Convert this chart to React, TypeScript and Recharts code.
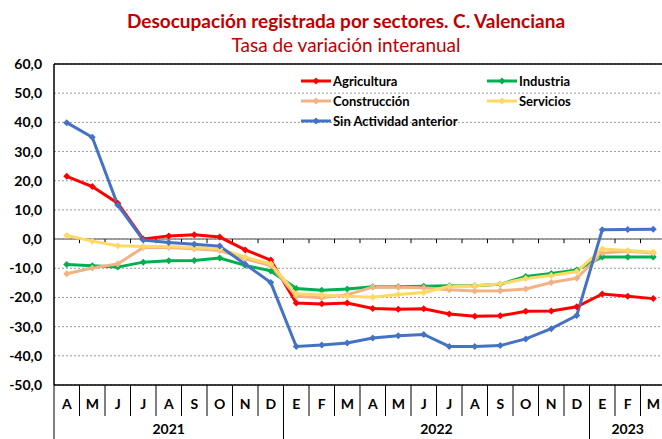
import { CartesianGrid, Line, LineChart, ReferenceLine, XAxis, YAxis } from "recharts";

const months = ["A", "M", "J", "J", "A", "S", "O", "N", "D", "E", "F", "M", "A", "M", "J", "J", "A", "S", "O", "N", "D", "E", "F", "M"];
const years = [
  { label: "2021", from: 0, to: 8 },
  { label: "2022", from: 9, to: 20 },
  { label: "2023", from: 21, to: 23 },
];
const yTicks = [-50, -40, -30, -20, -10, 0, 10, 20, 30, 40, 50, 60];

const agricultura = [21.5, 18.0, 12.3, 0.0, 1.1, 1.5, 0.7, -3.7, -7.2, -21.9, -22.2, -21.9, -23.8, -24.0, -23.9, -25.7, -26.4, -26.3, -24.7, -24.6, -23.2, -18.8, -19.6, -20.4];
const industria = [-8.7, -9.1, -9.6, -7.9, -7.4, -7.3, -6.5, -9.0, -10.9, -16.9, -17.5, -17.1, -16.3, -16.3, -16.2, -16.0, -16.0, -15.5, -12.8, -11.8, -10.6, -6.1, -6.1, -6.1];
const construccion = [-11.9, -9.9, -8.5, -2.9, -2.9, -3.3, -3.9, -6.8, -9.1, -19.6, -20.1, -19.1, -16.4, -16.5, -16.7, -17.4, -17.8, -17.7, -17.1, -14.9, -13.4, -4.8, -4.2, -4.8];
const servicios = [1.2, -0.7, -2.3, -2.5, -2.5, -2.9, -3.3, -6.2, -8.5, -18.7, -19.2, -19.6, -19.9, -19.0, -18.3, -16.2, -16.0, -15.4, -13.5, -12.5, -11.1, -3.4, -3.9, -4.5];
const sinActividad = [39.9, 34.9, 11.7, -0.3, -1.2, -1.8, -2.4, -8.6, -14.9, -36.8, -36.3, -35.6, -33.9, -33.1, -32.7, -36.8, -36.8, -36.5, -34.2, -30.7, -26.2, 3.2, 3.3, 3.4];

const series = [
  { key: "agricultura", name: "Agricultura", color: "#FF0000" },
  { key: "industria", name: "Industria", color: "#00B050" },
  { key: "construccion", name: "Construcción", color: "#F4B183" },
  { key: "servicios", name: "Servicios", color: "#FFD966" },
  { key: "sinActividad", name: "Sin Actividad anterior", color: "#4472C4" },
];

const data = months.map((m, i) => ({
  i,
  m,
  agricultura: agricultura[i],
  industria: industria[i],
  construccion: construccion[i],
  servicios: servicios[i],
  sinActividad: sinActividad[i],
}));

const CHART_W = 668;
const CHART_H = 439;
const Y_AXIS_W = 54;
const X_AXIS_H = 54;
const MARGIN_RIGHT = 2;
const BAND = (CHART_W - Y_AXIS_W - MARGIN_RIGHT) / months.length;
const FONT = "Lato, 'Open Sans', sans-serif";

const boundaries = months.slice(1).map((_, i) => i + 0.5);

function diamond(color: string) {
  return (p: any) => {
    const { cx, cy, index } = p;
    if (cx == null || cy == null) return <g key={index} />;
    const r = 3.5;
    return (
      <path
        key={index}
        d={`M${cx},${cy - r}L${cx + r},${cy}L${cx},${cy + r}L${cx - r},${cy}Z`}
        fill={color}
      />
    );
  };
}

function MonthTick(props: any) {
  const { x, y, payload } = props;
  const i = payload.value as number;
  const half = BAND / 2;
  const yearEnd = years.some((yr) => yr.to === i);
  const yearStart = years.find((yr) => yr.from === i);
  return (
    <g>
      <text x={x} y={y + 24} textAnchor="middle" fontWeight="bold" fontSize={14} fill="#000" fontFamily={FONT}>
        {months[i]}
      </text>
      <line x1={x + half} y1={y} x2={x + half} y2={yearEnd ? y + 60 : y + 31} stroke="#000" />
      {i === 0 && <line x1={x - half} y1={y} x2={x - half} y2={y + 60} stroke="#000" />}
      {yearStart && (
        <text
          x={x + ((yearStart.to - yearStart.from) * BAND) / 2}
          y={y + 49}
          textAnchor="middle"
          fontWeight="bold"
          fontSize={14}
          fill="#000"
          fontFamily={FONT}
        >
          {yearStart.label}
        </text>
      )}
    </g>
  );
}

function LegendItem({ name, color, left, top }: { name: string; color: string; left: number; top: number }) {
  return (
    <div style={{ position: "absolute", left, top, display: "flex", alignItems: "center", whiteSpace: "nowrap" }}>
      <svg width={30} height={10} style={{ marginRight: 2 }}>
        <line x1={0} y1={5} x2={30} y2={5} stroke={color} strokeWidth={3} />
        <path d="M15,1.5L18.5,5L15,8.5L11.5,5Z" fill={color} />
      </svg>
      <span style={{ fontWeight: "bold", fontSize: 13, color: "#000" }}>{name}</span>
    </div>
  );
}

export default function App() {
  const legendPos = [
    { left: 301, top: 73 },
    { left: 487, top: 73 },
    { left: 301, top: 93 },
    { left: 487, top: 93 },
    { left: 301, top: 113 },
  ];
  return (
    <div
      style={{
        position: "absolute",
        left: 0,
        top: 0,
        width: 662,
        height: 439,
        overflow: "hidden",
        background: "#fff",
        fontFamily: FONT,
      }}
    >
      <div
        style={{
          position: "absolute",
          left: 0,
          width: 692,
          top: 9,
          textAlign: "center",
          color: "#C00000",
          fontWeight: "bold",
          fontSize: 19,
          lineHeight: "24px",
        }}
      >
        Desocupación registrada por sectores. C. Valenciana
      </div>
      <div
        style={{
          position: "absolute",
          left: 0,
          width: 692,
          top: 33,
          textAlign: "center",
          color: "#C00000",
          fontSize: 19,
          lineHeight: "24px",
        }}
      >
        Tasa de variación interanual
      </div>
      <div style={{ position: "absolute", left: 0, top: 0 }}>
        <LineChart
          width={CHART_W}
          height={CHART_H}
          data={data}
          margin={{ top: 64, right: MARGIN_RIGHT, left: 0, bottom: 0 }}
        >
          <CartesianGrid vertical={false} stroke="#999999" strokeDasharray="2 2" />
          <XAxis
            dataKey="i"
            type="number"
            domain={[-0.5, 23.5]}
            ticks={months.map((_, i) => i)}
            interval={0}
            height={X_AXIS_H}
            axisLine={{ stroke: "#000", strokeWidth: 1.5 }}
            tickLine={false}
            tickSize={0}
            tickMargin={0}
            tick={<MonthTick />}
          />
          <YAxis
            domain={[-50, 60]}
            ticks={yTicks}
            interval={0}
            width={Y_AXIS_W}
            axisLine={{ stroke: "#000", strokeWidth: 1.5 }}
            tickLine={false}
            tickSize={6}
            tickMargin={6}
            tick={{ fill: "#000", fontWeight: "bold", fontSize: 14, fontFamily: FONT }}
            tickFormatter={(v: number) => v.toFixed(1).replace(".", ",")}
          />
          <ReferenceLine y={60} stroke="#000" strokeWidth={1.5} />
          <ReferenceLine y={0} stroke="#868686" strokeWidth={1.5} />
          {boundaries.map((b) => (
            <ReferenceLine
              key={b}
              segment={[
                { x: b, y: 0 },
                { x: b, y: -1.4 },
              ]}
              stroke="#000"
            />
          ))}
          {series.map((s) => (
            <Line
              key={s.key}
              type="linear"
              dataKey={s.key}
              name={s.name}
              stroke={s.color}
              strokeWidth={3}
              dot={diamond(s.color)}
              activeDot={false}
              isAnimationActive={false}
            />
          ))}
        </LineChart>
      </div>
      {series.map((s, k) => (
        <LegendItem key={s.key} name={s.name} color={s.color} left={legendPos[k].left} top={legendPos[k].top} />
      ))}
    </div>
  );
}
